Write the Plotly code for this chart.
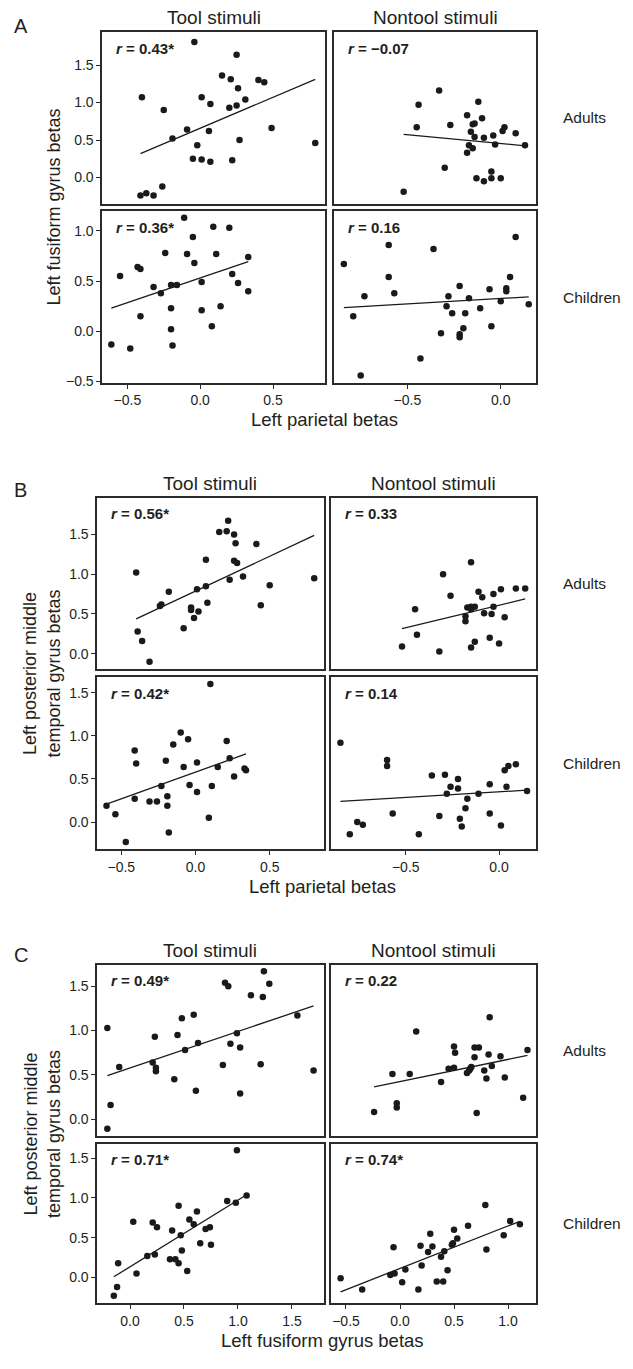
import numpy as np
import plotly.graph_objects as go

# ---------------- DATA ----------------
# Panel A: x = left parietal betas, y = left fusiform gyrus betas
A_tool_adults_x = [-0.40, -0.04, 0.25, 0.15, 0.21, 0.40, 0.44, 0.26, 0.31, 0.01, 0.07, 0.20, 0.25, -0.25, -0.19,
                   -0.09, 0.06, 0.49, 0.27, -0.02, 0.79, -0.05, 0.01, 0.07, 0.22, -0.26, -0.41, -0.37, -0.32]
A_tool_adults_y = [1.07, 1.81, 1.64, 1.36, 1.31, 1.30, 1.27, 1.19, 1.04, 1.07, 0.98, 0.93, 0.96, 0.90, 0.52,
                   0.64, 0.62, 0.66, 0.50, 0.43, 0.46, 0.25, 0.24, 0.21, 0.23, -0.12, -0.24, -0.21, -0.24]
A_nontool_adults_x = [-0.33, -0.44, -0.12, -0.45, -0.27, -0.18, -0.10, -0.15, -0.14, -0.16, -0.14, -0.09, -0.04, 0.01,
                      0.02, 0.08, -0.03, 0.13, -0.17, -0.15, -0.18, -0.30, -0.13, -0.09, -0.05, -0.05, 0.00, -0.52]
A_nontool_adults_y = [1.16, 0.97, 1.01, 0.67, 0.70, 0.83, 0.79, 0.71, 0.72, 0.61, 0.54, 0.53, 0.56, 0.62,
                      0.67, 0.59, 0.44, 0.43, 0.43, 0.39, 0.33, 0.13, -0.01, -0.05, -0.01, 0.08, -0.01, -0.19]
A_tool_children_x = [-0.11, 0.09, 0.20, -0.05, -0.24, -0.09, 0.11, 0.33, -0.04, -0.43, -0.41, -0.55, 0.22, 0.01, 0.26,
                     -0.20, -0.16, -0.32, -0.27, 0.33, -0.20, 0.01, 0.14, -0.41, 0.08, -0.20, -0.61, -0.48, -0.19]
A_tool_children_y = [1.13, 1.04, 1.03, 0.94, 0.78, 0.77, 0.77, 0.74, 0.68, 0.64, 0.62, 0.55, 0.57, 0.49, 0.48,
                     0.46, 0.46, 0.44, 0.38, 0.40, 0.23, 0.21, 0.25, 0.15, 0.05, 0.02, -0.13, -0.17, -0.14]
A_nontool_children_x = [-0.84, -0.60, -0.36, 0.08, -0.60, -0.57, -0.73, -0.79, -0.28, -0.22, -0.17, -0.29, -0.26, -0.19,
                        -0.11, -0.06, 0.03, 0.03, 0.05, 0.00, -0.05, -0.20, -0.32, -0.22, -0.22, -0.43, -0.75, 0.15]
A_nontool_children_y = [0.67, 0.86, 0.82, 0.94, 0.54, 0.38, 0.35, 0.15, 0.35, 0.45, 0.33, 0.25, 0.18, 0.18,
                        0.23, 0.42, 0.43, 0.40, 0.54, 0.30, 0.05, 0.03, -0.02, -0.03, -0.06, -0.27, -0.44, 0.27]

# Panel B: x = left parietal betas, y = left posterior middle temporal gyrus betas
B_tool_adults_x = [0.22, 0.16, 0.21, 0.26, 0.27, 0.41, 0.07, 0.26, 0.28, -0.40, 0.32, 0.23, 0.80, 0.50, 0.07,
                   -0.18, 0.01, -0.24, -0.23, 0.08, 0.44, -0.03, -0.03, 0.02, -0.01, -0.08, -0.39, -0.36, -0.31]
B_tool_adults_y = [1.67, 1.53, 1.54, 1.50, 1.39, 1.38, 1.18, 1.17, 1.14, 1.02, 0.97, 0.93, 0.95, 0.86, 0.85,
                   0.78, 0.81, 0.60, 0.62, 0.64, 0.61, 0.58, 0.55, 0.53, 0.45, 0.32, 0.28, 0.16, -0.10]
B_nontool_adults_x = [-0.15, -0.30, -0.11, -0.26, -0.09, -0.03, 0.01, 0.09, 0.14, -0.45, -0.17, -0.15, -0.13, -0.15,
                      -0.03, -0.18, -0.18, -0.08, -0.04, 0.03, -0.44, -0.13, -0.15, -0.05, 0.00, -0.52, -0.32]
B_nontool_adults_y = [1.15, 1.00, 0.78, 0.73, 0.71, 0.75, 0.81, 0.82, 0.82, 0.56, 0.58, 0.59, 0.59, 0.56,
                      0.59, 0.47, 0.41, 0.51, 0.50, 0.46, 0.24, 0.15, 0.08, 0.20, 0.13, 0.09, 0.03]
B_tool_children_x = [0.10, -0.10, -0.05, 0.21, -0.15, -0.41, -0.40, -0.20, 0.01, -0.08, 0.15, 0.23, 0.33, 0.34, 0.26,
                     0.11, -0.04, -0.23, 0.01, -0.41, -0.31, -0.26, -0.19, -0.19, -0.60, -0.54, 0.09, -0.18, -0.47]
B_tool_children_y = [1.60, 1.04, 0.96, 0.94, 0.90, 0.83, 0.68, 0.71, 0.69, 0.64, 0.64, 0.74, 0.62, 0.60, 0.53,
                     0.42, 0.43, 0.42, 0.35, 0.27, 0.24, 0.24, 0.30, 0.19, 0.19, 0.09, 0.05, -0.12, -0.23]
B_nontool_children_x = [-0.85, -0.60, -0.60, -0.36, -0.29, -0.22, -0.26, -0.22, -0.28, -0.17, -0.11, -0.05, 0.04, 0.03,
                        0.05, 0.09, -0.18, -0.05, -0.32, -0.21, -0.20, 0.01, -0.57, -0.76, -0.73, -0.80, -0.43, 0.15]
B_nontool_children_y = [0.92, 0.72, 0.65, 0.54, 0.55, 0.50, 0.41, 0.39, 0.33, 0.27, 0.33, 0.44, 0.41, 0.60,
                        0.65, 0.67, 0.16, 0.10, 0.07, 0.04, -0.05, -0.04, 0.10, 0.00, -0.03, -0.14, -0.14, 0.36]

# Panel C: x = left fusiform gyrus betas, y = left posterior middle temporal gyrus betas
C_tool_adults_x = [-0.21, -0.18, -0.10, 0.23, 0.21, 0.24, 0.24, 0.41, 0.44, 0.48, 0.51, 0.59, 0.61, 0.63, 0.86,
                   0.88, 0.91, 0.93, 0.99, 1.02, 1.02, 1.12, 1.21, 1.23, 1.24, 1.29, 1.55, 1.70, -0.21]
C_tool_adults_y = [1.03, 0.16, 0.59, 0.93, 0.64, 0.58, 0.54, 0.45, 0.95, 1.14, 0.78, 1.18, 0.32, 0.86, 0.61,
                   1.54, 1.50, 0.85, 0.97, 0.81, 0.29, 1.40, 0.62, 1.38, 1.67, 1.53, 1.17, 0.55, -0.11]
C_nontool_adults_x = [0.83, 0.15, 0.50, 0.51, 0.69, 0.73, 0.69, 0.82, 0.93, -0.07, 0.09, 0.45, 0.50, 0.62,
                      0.64, 0.66, 0.65, 0.78, 0.85, 0.80, 0.97, 0.38, 1.14, -0.03, -0.03, -0.24, 0.71, 1.18]
C_nontool_adults_y = [1.15, 0.99, 0.82, 0.75, 0.81, 0.81, 0.70, 0.73, 0.71, 0.51, 0.51, 0.57, 0.58, 0.52,
                      0.55, 0.59, 0.57, 0.55, 0.60, 0.46, 0.47, 0.42, 0.24, 0.18, 0.13, 0.08, 0.07, 0.78]
C_tool_children_x = [0.99, 0.90, 0.98, 1.08, 0.45, 0.62, 0.03, 0.21, 0.25, 0.55, 0.59, 0.70, 0.74, 0.39,
                     0.47, 0.65, 0.75, 0.16, 0.23, 0.48, 0.37, 0.42, 0.45, 0.53, -0.11, 0.06, -0.12, -0.15]
C_tool_children_y = [1.60, 0.96, 0.94, 1.03, 0.90, 0.83, 0.70, 0.69, 0.63, 0.73, 0.67, 0.61, 0.63, 0.59,
                     0.53, 0.43, 0.41, 0.27, 0.29, 0.34, 0.23, 0.23, 0.18, 0.08, 0.18, 0.05, -0.12, -0.23]
C_nontool_children_x = [0.79, 1.02, 1.11, 0.63, 0.50, 0.28, 0.96, 0.53, 0.49, 0.48, -0.06, 0.19, 0.30, 0.26,
                        0.80, 0.41, 0.38, 0.20, 0.05, -0.09, -0.05, 0.44, 0.02, 0.34, 0.40, 0.17, -0.35, -0.55]
C_nontool_children_y = [0.91, 0.71, 0.67, 0.65, 0.60, 0.55, 0.53, 0.49, 0.43, 0.41, 0.38, 0.40, 0.39, 0.32,
                        0.35, 0.33, 0.26, 0.15, 0.10, 0.03, 0.05, 0.09, -0.06, -0.05, -0.05, -0.15, -0.15, -0.01]

r_labels = ["0.43*", "\u22120.07", "0.36*", "0.16",
            "0.56*", "0.33", "0.42*", "0.14",
            "0.49*", "0.22", "0.71*", "0.74*"]
panel_letters = ["A", "B", "C"]
column_titles = ["Tool stimuli", "Nontool stimuli"]
row_titles = ["Adults", "Children"]
x_titles = ["Left parietal betas", "Left parietal betas", "Left fusiform gyrus betas"]
y_titles = ["Left fusiform gyrus betas", "Left posterior middle<br>temporal gyrus betas",
            "Left posterior middle<br>temporal gyrus betas"]

series = [
    [(A_tool_adults_x, A_tool_adults_y), (A_nontool_adults_x, A_nontool_adults_y),
     (A_tool_children_x, A_tool_children_y), (A_nontool_children_x, A_nontool_children_y)],
    [(B_tool_adults_x, B_tool_adults_y), (B_nontool_adults_x, B_nontool_adults_y),
     (B_tool_children_x, B_tool_children_y), (B_nontool_children_x, B_nontool_children_y)],
    [(C_tool_adults_x, C_tool_adults_y), (C_nontool_adults_x, C_nontool_adults_y),
     (C_tool_children_x, C_tool_children_y), (C_nontool_children_x, C_nontool_children_y)],
]

# ---------------- LAYOUT ----------------
W, H = 633, 1369
FONT = "Liberation Sans, Arial, Helvetica, sans-serif"
INK = "#231f20"
LINE = "#2b2b2b"


def fx(px):
    return px / W


def fy(py):
    return 1 - py / H


panels = [
    dict(cols=[(94.3, 317.0), (326.0, 528.0)], rows=[(24.3, 196.7), (204.3, 376.7)],
         xr=[[-0.672, 0.857], [-0.893, 0.189]], yr=[[-0.35, 1.94], [-0.512, 1.195]],
         xt=[[-0.5, 0, 0.5], [-0.5, 0]], yt=[[0, 0.5, 1, 1.5], [-0.5, 0, 0.5, 1]],
         letter_y=18, title_y=10, xtitle_y=414, ytitle_x=46),
    dict(cols=[(89.3, 315.7), (323.3, 528.0)], rows=[(492.3, 664.3), (672.7, 845.7)],
         xr=[[-0.662, 0.864], [-0.899, 0.198]], yr=[[-0.19, 1.96], [-0.316, 1.679]],
         xt=[[-0.5, 0, 0.5], [-0.5, 0]], yt=[[0, 0.5, 1, 1.5], [0, 0.5, 1, 1.5]],
         letter_y=484, title_y=478, xtitle_y=883, ytitle_x=34),
    dict(cols=[(89.3, 315.7), (323.3, 528.0)], rows=[(961.7, 1133.3), (1141.7, 1302.0)],
         xr=[[-0.303, 1.794], [-0.636, 1.259]], yr=[[-0.185, 1.743], [-0.325, 1.679]],
         xt=[[0, 0.5, 1, 1.5], [-0.5, 0, 0.5, 1]], yt=[[0, 0.5, 1, 1.5], [0, 0.5, 1, 1.5]],
         letter_y=952, title_y=947, xtitle_y=1339, ytitle_x=34),
]

fig = go.Figure()
layout = dict(width=W, height=H, margin=dict(l=0, r=0, t=0, b=0),
              paper_bgcolor="white", plot_bgcolor="white", showlegend=False,
              font=dict(family=FONT, color=INK, size=14))
annotations = []

k = 0
for p_i, p in enumerate(panels):
    for r_i in range(2):
        for c_i in range(2):
            k += 1
            xs, ys = series[p_i][r_i * 2 + c_i]
            xname = "x" if k == 1 else f"x{k}"
            yname = "y" if k == 1 else f"y{k}"
            x0, x1 = p["cols"][c_i]
            y0, y1 = p["rows"][r_i]
            bottom = r_i == 1
            left = c_i == 0
            layout["xaxis" if k == 1 else f"xaxis{k}"] = dict(
                domain=[fx(x0), fx(x1)], range=p["xr"][c_i], anchor=yname,
                showline=True, mirror=True, linewidth=1.7, linecolor=LINE,
                showgrid=False, zeroline=False,
                ticks="outside" if bottom else "", ticklen=4, tickwidth=1.3, tickcolor=LINE,
                tickvals=p["xt"][c_i], tickformat=".1f", showticklabels=bottom,
                tickfont=dict(size=14, color=INK, family=FONT))
            layout["yaxis" if k == 1 else f"yaxis{k}"] = dict(
                domain=[fy(y1), fy(y0)], range=p["yr"][r_i], anchor=xname,
                showline=True, mirror=True, linewidth=1.7, linecolor=LINE,
                showgrid=False, zeroline=False,
                ticks="outside" if left else "", ticklen=4, tickwidth=1.3, tickcolor=LINE,
                tickvals=p["yt"][r_i], tickformat=".1f", showticklabels=left,
                tickfont=dict(size=14, color=INK, family=FONT))
            # least-squares regression line over the observed x range
            xa = np.array(xs)
            ya = np.array(ys)
            slope, icpt = np.polyfit(xa, ya, 1)
            lx = np.array([xa.min(), xa.max()])
            fig.add_trace(go.Scatter(x=lx, y=slope * lx + icpt, mode="lines",
                                     line=dict(color="#1a1a1a", width=1.3),
                                     xaxis=xname, yaxis=yname, hoverinfo="skip"))
            fig.add_trace(go.Scatter(x=xs, y=ys, mode="markers",
                                     marker=dict(color="#1a1a1a", size=6.5),
                                     xaxis=xname, yaxis=yname))
            annotations.append(dict(
                xref="paper", yref="paper", x=fx(x0 + 12), y=fy(y0 + 16),
                xanchor="left", yanchor="middle", showarrow=False,
                text=f"<b><i>r</i> = {r_labels[k - 1]}</b>",
                font=dict(size=15, color=INK, family=FONT)))
    # panel texts
    annotations.append(dict(xref="paper", yref="paper", x=fx(4), y=fy(p["letter_y"]),
                            xanchor="left", yanchor="middle", showarrow=False,
                            text=panel_letters[p_i], font=dict(size=20, color=INK, family=FONT)))
    centers = []
    for c_i in range(2):
        x0, x1 = p["cols"][c_i]
        centers.append((x0 + x1) / 2)
        annotations.append(dict(xref="paper", yref="paper", x=fx((x0 + x1) / 2), y=fy(p["title_y"]),
                                xanchor="center", yanchor="middle", showarrow=False,
                                text=column_titles[c_i], font=dict(size=19, color=INK, family=FONT)))
    for r_i in range(2):
        y0, y1 = p["rows"][r_i]
        annotations.append(dict(xref="paper", yref="paper", x=fx(553), y=fy((y0 + y1) / 2),
                                xanchor="left", yanchor="middle", showarrow=False,
                                text=row_titles[r_i], font=dict(size=15.5, color=INK, family=FONT)))
    annotations.append(dict(xref="paper", yref="paper",
                            x=fx((centers[0] + centers[1]) / 2), y=fy(p["xtitle_y"]),
                            xanchor="center", yanchor="middle", showarrow=False,
                            text=x_titles[p_i], font=dict(size=18.5, color=INK, family=FONT)))
    annotations.append(dict(xref="paper", yref="paper", x=fx(p["ytitle_x"]),
                            y=fy((p["rows"][0][0] + p["rows"][1][1]) / 2),
                            xanchor="center", yanchor="middle", showarrow=False, textangle=-90,
                            text=y_titles[p_i], font=dict(size=18, color=INK, family=FONT)))

layout["annotations"] = annotations
fig.update_layout(**layout)
fig.write_html("out.html")
